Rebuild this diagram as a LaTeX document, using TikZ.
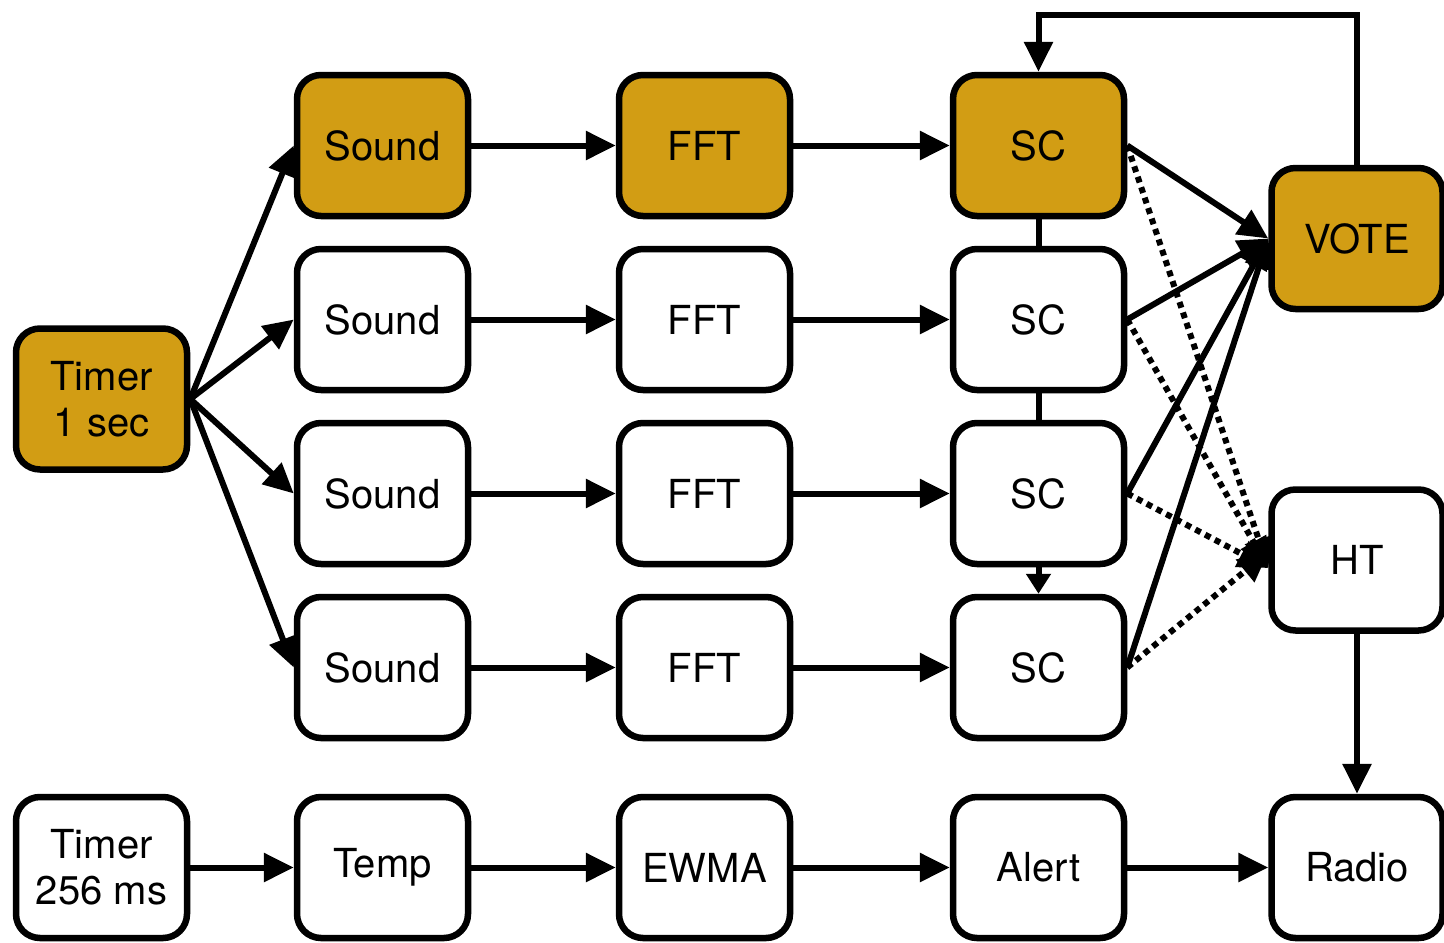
\documentclass[tikz,border=0pt]{standalone}
\usepackage{fontspec}
\setmainfont{TeX Gyre Heros}
\usetikzlibrary{arrows.meta,positioning}
\definecolor{gold}{RGB}{210,157,20}
\tikzset{
  box/.style={draw=black, line width=6.5pt, rounded corners=24pt, minimum width=171pt, minimum height=141pt, align=center, font=\fontsize{40}{46}\selectfont, fill=white},
  goldbox/.style={box, fill=gold},
  arr/.style={line width=6pt, -{Triangle[length=30pt,width=28pt]}},
  darr/.style={line width=6pt, dash pattern=on 6pt off 5pt, -{Triangle[length=30pt,width=28pt]}},
  link/.style={line width=6pt}
}
\begin{document}
\begin{tikzpicture}[x=1pt,y=-1pt]
\useasboundingbox (0,0) rectangle (1444,943);
% nodes
\node[goldbox] (t1) at (101.5,399) {Timer\\1 sec};
\node[goldbox] (s1) at (382.5,145.5) {Sound};
\node[box] (s2) at (382.5,319.5) {Sound};
\node[box] (s3) at (382.5,493.5) {Sound};
\node[box] (s4) at (382.5,667.5) {Sound};
\node[goldbox] (f1) at (704.5,145.5) {FFT};
\node[box] (f2) at (704.5,319.5) {FFT};
\node[box] (f3) at (704.5,493.5) {FFT};
\node[box] (f4) at (704.5,667.5) {FFT};
\node[goldbox] (c1) at (1038.5,145.5) {SC};
\node[box] (c2) at (1038.5,319.5) {SC};
\node[box] (c3) at (1038.5,493.5) {SC};
\node[box] (c4) at (1038.5,667.5) {SC};
\node[goldbox] (vote) at (1357,238.5) {VOTE};
\node[box] (ht) at (1357,560) {HT};
\node[box] (t2) at (101.5,867.5) {Timer\\256 ms};
\node[box] (temp) at (382.5,867.5) {Temp};
\node[box] (ewma) at (704.5,867.5) {EWMA};
\node[box] (alert) at (1038.5,867.5) {Alert};
\node[box] (radio) at (1357,867.5) {Radio};
\coordinate (top) at (1200,15);
% timer fan-out
\draw[arr] (t1.east) -- (s1.west);
\draw[arr] (t1.east) -- (s2.west);
\draw[arr] (t1.east) -- (s3.west);
\draw[arr] (t1.east) -- (s4.west);
% rows
\foreach \i in {1,2,3,4}{
  \draw[arr] (s\i) -- (f\i);
  \draw[arr] (f\i) -- (c\i);
}
% SC column links
\draw[link] (c1.south) -- (c2.north);
\draw[link] (c2.south) -- (c3.north);
\draw[line width=6pt, -{Triangle[length=20pt,width=24pt]}] (c3.south) -- (c4.north);
% to VOTE
\foreach \i in {1,2,3,4}{
  \draw[arr] (c\i.east) -- (vote.west);
}
% to HT (dotted)
\draw[darr] (c1.east) -- ([yshift=-8pt]ht.west);
\draw[darr] (c2.east) -- ([yshift=-8pt]ht.west);
\draw[darr] (c3.east) -- ([yshift=-8pt]ht.west);
\draw[darr] (c4.east) -- ([yshift=8pt]ht.west);
% feedback
\draw[arr] (vote.north) |- (top) -| (c1.north);
% HT to radio
\draw[arr] (ht.south) -- (radio.north);
% bottom row
\draw[arr] (t2) -- (temp);
\draw[arr] (temp) -- (ewma);
\draw[arr] (ewma) -- (alert);
\draw[arr] (alert) -- (radio);
\end{tikzpicture}
\end{document}
